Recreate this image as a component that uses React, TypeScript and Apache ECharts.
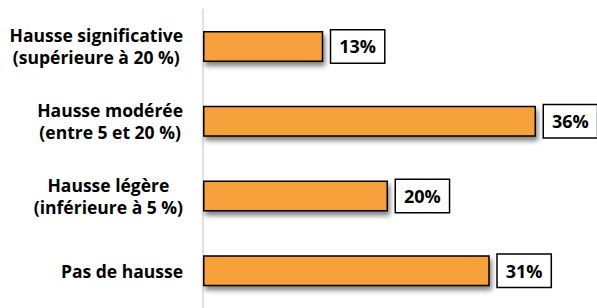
import React, { useEffect, useRef } from "react";
import * as echarts from "echarts";

const categories = [
  "Hausse significative\n(supérieure à 20 %)",
  "Hausse modérée\n(entre 5 et 20 %)",
  "Hausse légère\n(inférieure à 5 %)",
  "Pas de hausse",
];
const values = [13, 36, 20, 31];

export default function App() {
  const ref = useRef<HTMLDivElement>(null);
  useEffect(() => {
    document.body.style.margin = "0";
    const chart = echarts.init(ref.current!, null, { renderer: "svg" });
    chart.setOption({
      animation: false,
      grid: { left: 203, top: 9, width: 370, height: 311 },
      xAxis: {
        type: "value",
        min: 0,
        max: 40,
        show: false,
        splitLine: { show: false },
      },
      yAxis: {
        type: "category",
        inverse: true,
        data: categories,
        axisLine: { show: true, lineStyle: { color: "#d9d9d9", width: 1.5 } },
        axisTick: { show: false },
        axisLabel: {
          margin: 20,
          formatter: (v: string) =>
            v
              .split("\n")
              .map((l) => "{c|" + l + "}")
              .join("\n"),
          rich: {
            c: {
              align: "center",
              fontFamily: "Open Sans",
              fontWeight: "bold",
              fontSize: 17.5,
              lineHeight: 22,
              color: "#000",
            },
          },
        },
      },
      series: [
        {
          type: "bar",
          data: values,
          barWidth: 31,
          itemStyle: {
            color: "#F5A03A",
            borderColor: "#000",
            borderWidth: 1.5,
            shadowColor: "rgba(0,0,0,0.5)",
            shadowBlur: 5,
            shadowOffsetX: 2,
            shadowOffsetY: 4,
          },
          label: {
            show: true,
            position: "right",
            distance: 8,
            formatter: "{c}%",
            fontFamily: "Open Sans",
            fontWeight: "bold",
            fontSize: 18,
            color: "#000",
            backgroundColor: "#fff",
            borderColor: "#000",
            borderWidth: 1.5,
            padding: [6, 8, 6, 8],
            lineHeight: 20,
          },
        },
      ],
    });
    return () => chart.dispose();
  }, []);
  return (
    <div
      ref={ref}
      style={{ position: "absolute", left: 0, top: 0, width: 597, height: 308 }}
    />
  );
}
